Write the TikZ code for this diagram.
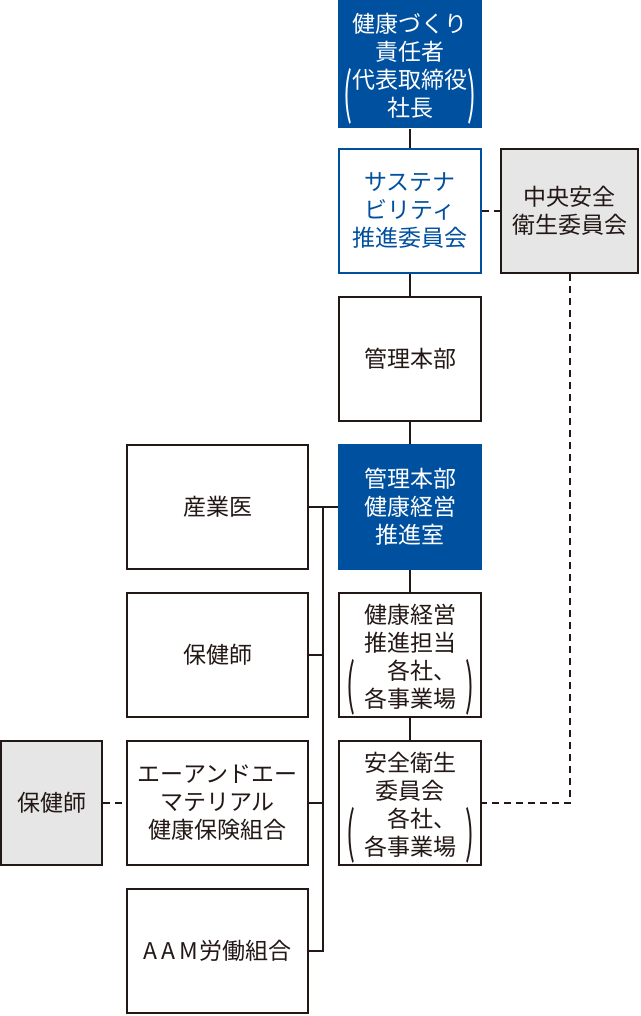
\documentclass[tikz,border=0pt]{standalone}
\usepackage{fontspec}
\setmainfont{Noto Sans CJK JP}
\definecolor{aablue}{HTML}{0050A0}
\definecolor{aagray}{HTML}{E6E6E6}
\definecolor{aaline}{HTML}{231815}
\newcommand{\tallparen}[1]{\raisebox{-25.5pt}{\scalebox{1.15}[2.4]{#1}}}
\newcommand{\parenlines}[3][0pt]{\raisebox{0pt}[19.6pt][26.4pt]{\tallparen{(}\hspace{#1}\begin{tabular}[t]{@{}#2@{}}#3\end{tabular}\hspace{#1}\tallparen{)}}}
\begin{document}
\begin{tikzpicture}[x=1pt,y=-1pt,
		orgbox/.style={draw=aaline,line width=2pt,fill=white,text=aaline,minimum width=142pt,minimum height=124pt,inner sep=0pt,align=center,font=\fontsize{23}{28}\selectfont},
		widebox/.style={orgbox,minimum width=181pt},
		graybox/.style={orgbox,fill=aagray},
		bluebox/.style={orgbox,draw=aablue,fill=aablue,text=white},
		link/.style={draw=aaline,line width=2pt},
		dashlink/.style={link,dash pattern=on 7pt off 5pt}]
	\useasboundingbox (0,0) rectangle (640,1016);
	\node[bluebox,draw=none,minimum width=144pt,minimum height=128pt] (head) at (410,64) {健康づくり\\責任者\\\parenlines{c}{代表取締役\\社長}};
	\node[orgbox,draw=aablue,text=aablue] (sust) at (410,211) {サステナ\\ビリティ\\推進委員会};
	\node[graybox,minimum width=137pt] (chuo) at (569.5,211) {中央安全\\衛生委員会};
	\node[orgbox] (kanri) at (410,359) {管理本部};
	\node[bluebox] (office) at (410,507) {管理本部\\健康経営\\推進室};
	\node[orgbox] (tanto) at (410,655) {健康経営\\推進担当\\\parenlines[9pt]{r}{各社、\\各事業場}};
	\node[orgbox] (anzen) at (410,803) {安全衛生\\委員会\\\parenlines[9pt]{r}{各社、\\各事業場}};
	\node[widebox] (doctor) at (217.5,507) {産業医};
	\node[widebox] (nurse) at (217.5,655) {保健師};
	\node[widebox] (kenpo) at (217.5,803) {エーアンドエー\\マテリアル\\健康保険組合};
	\node[widebox] (union) at (217.5,951) {A\hspace{4pt}A\hspace{4pt}M\hspace{2pt}労働組合};
	\node[graybox,minimum width=101pt] (nurse2) at (51.5,803) {保健師};
	\coordinate (bus) at (323,507);
	\draw[link] (head) -- (sust);
	\draw[link] (sust) -- (kanri);
	\draw[link] (kanri) -- (office);
	\draw[link] (office) -- (tanto);
	\draw[link] (tanto) -- (anzen);
	\draw[link] (doctor) -- (office);
	\draw[link] (bus) |- (union.east);
	\draw[link] (nurse.east) -- (nurse.east -| bus);
	\draw[link] (kenpo.east) -- (kenpo.east -| bus);
	\draw[dashlink] (sust) -- (chuo);
	\draw[dashlink] (chuo.south) |- (anzen.east);
	\draw[dashlink] (nurse2) -- (kenpo);
\end{tikzpicture}
\end{document}
